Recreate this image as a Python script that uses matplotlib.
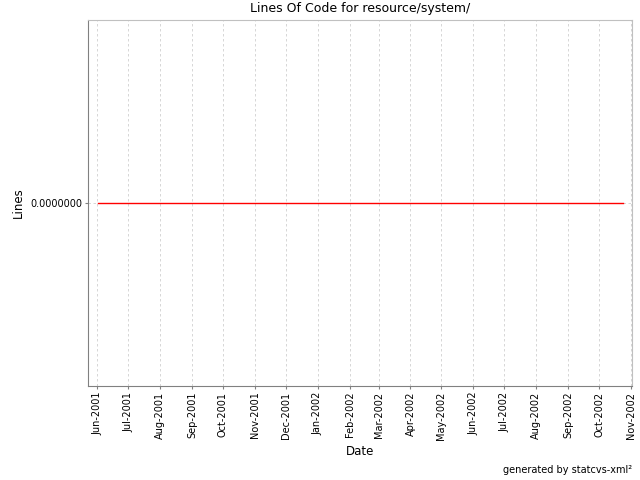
import matplotlib
matplotlib.use("Agg")
import matplotlib.pyplot as plt
import matplotlib.dates as mdates
import numpy as np

# data (all zero lines)
dates = np.array(["2001-06-02", "2002-10-24"], dtype="datetime64[D]")
lines = [0, 0]
x_start, x_end = np.datetime64("2001-05-23"), np.datetime64("2002-11-02")
title = "Lines Of Code for resource/system/"

plt.rcParams['font.family'] = ['DejaVu Sans']
fig = plt.figure(figsize=(6.4, 4.8), dpi=100)
ax = fig.add_axes([88 / 640, 1 - 386 / 480, (632 - 88) / 640, (386 - 20) / 480])

ax.plot(dates, lines, color='#ff0000', lw=1)
ax.set_xlim(x_start, x_end)
ax.set_ylim(-1, 1)
ax.set_yticks([0])
ax.set_yticklabels(["0.0000000"])

ax.xaxis.set_major_locator(mdates.MonthLocator())
ax.xaxis.set_major_formatter(mdates.DateFormatter("%b-%Y"))
plt.setp(ax.get_xticklabels(), rotation=90)
ax.tick_params(labelsize=7, length=2, color='#808080', pad=2)

ax.grid(True, color='#d0d0d0', ls=(0, (3, 3)), lw=0.6)
ax.set_axisbelow(True)
for side in ('left', 'bottom'):
    ax.spines[side].set_color('#808080')
for side in ('top', 'right'):
    ax.spines[side].set_color('#c0c0c0')

ax.set_title(title, fontsize=9, pad=6)
ax.set_xlabel("Date", fontsize=8.5, labelpad=4)
ax.set_ylabel("Lines", fontsize=8.5, labelpad=4)
fig.text(632 / 640, 1 - 470 / 480, "generated by statcvs-xml²", fontsize=7,
         ha='right', va='center')

fig.savefig("out.png", dpi=100)
